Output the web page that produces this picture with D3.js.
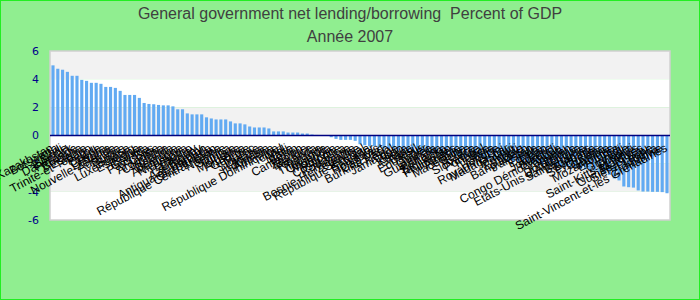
<!DOCTYPE html>
<html>
<head>
<meta charset="utf-8">
<script src="https://cdnjs.cloudflare.com/ajax/libs/d3/7.8.5/d3.min.js"></script>
<style>
body{margin:0;padding:0;background:#fff;}
#chart{width:700px;height:300px;}
</style>
</head>
<body>
<div id="chart"></div>
<script>
// données
var countries = ["Kazakhstan","Botswana","Chili","Islande","Danemark","Finlande","Bulgarie","Estonie","Trinité-et-Tobago","Pérou",
"Suède","Chypre","Lettonie","Nouvelle-Zélande","Australie","Russie","Suisse","Luxembourg","Espagne","Bolivie",
"Canada","Pays-Bas","Corée","Argentine","Colombie","Irlande","Belgique","Allemagne","Nicaragua","Lesotho",
"Paraguay","Uruguay","Azerbaïdjan","Antigua-et-Barbuda","Ouzbékistan","République Centrafricaine","Namibie","Samoa","Tunisie","Moldavie",
"Arménie","Géorgie","Maroc","Slovénie","Lituanie","Indonésie","Autriche","République Dominicaine","Tchad","Mali",
"Malte","Bénin","Cameroun","Zambie","Maurice","Rwanda","Turquie","Thaïlande","Ouganda","Mongolie",
"Pologne","Costa Rica","Roumanie","Tanzanie","Bosnie-Herzégovine","Sénégal","République Kirghize","Salvador","Honduras","Cap-Vert",
"Burkina Faso","Népal","Jamaïque","Togo","Kenya","Ghana","Brésil","Equateur","Niger","Guinée",
"Guatemala","Panama","Sri Lanka","Tadjikistan","Philippines","Albanie","Macédoine","Belize","Grèce","Slovaquie",
"Portugal","France","Italie","Hongrie","Royaume-Uni","Madagascar","Malawi","Haïti","Ethiopie","Bangladesh",
"Pakistan","Inde","Egypte","Liban","Jordanie","Burundi","Congo Démocratique","Vanuatu","Yémen","Dominique",
"Etats-Unis d'Amérique","Sainte-Lucie","Bahamas","Barbade","Seychelles","Guyana","Gambie","Mozambique","Erythrée","Fidji",
"Grenade","Djibouti","Saint-Kitts-et-Nevis","Maldives","Guinée-Bissau","Sierra Leone","Libéria","Zimbabwe","Saint-Vincent-et-les Grenadines"];

var values = [4.98,4.74,4.67,4.52,4.24,4.24,3.95,3.88,3.74,3.74,
3.67,3.45,3.45,3.38,3.17,2.88,2.88,2.88,2.67,2.31,
2.24,2.22,2.17,2.14,2.14,2.07,1.86,1.86,1.57,1.5,
1.5,1.5,1.29,1.21,1.14,1.14,1.14,1.0,0.86,0.86,
0.79,0.64,0.57,0.57,0.57,0.5,0.29,0.29,0.29,0.21,
0.21,0.21,0.14,0.14,0.07,0.04,0.02,-0.03,-0.12,-0.24,
-0.31,-0.31,-0.31,-0.38,-0.62,-0.69,-0.76,-0.76,-0.86,-0.93,
-0.93,-1.0,-1.05,-1.1,-1.1,-1.15,-1.2,-1.2,-1.25,-1.3,
-1.3,-1.35,-1.4,-1.4,-1.45,-1.5,-1.5,-1.55,-1.6,-1.6,
-1.65,-1.7,-1.7,-1.75,-1.8,-1.8,-1.85,-1.9,-1.9,-1.95,
-2.0,-2.0,-2.05,-2.1,-2.1,-2.15,-2.2,-2.2,-2.25,-2.3,
-2.35,-2.4,-2.45,-2.5,-2.6,-2.7,-2.8,-3.05,-3.19,-3.62,
-3.67,-3.7,-3.9,-3.98,-3.98,-4.0,-4.0,-4.02,-4.1];

var yTicks = [-6,-4,-2,0,2,4,6];
var bands = [[4,6],[2,4],[0,2],[-2,0],[-4,-2],[-6,-4]];
var title1 = "General government net lending/borrowing  Percent of GDP";
var title2 = "Année 2007";

var W = 700, H = 300;
var margin = {top:51, right:30, bottom:80, left:50};

var svg = d3.select("#chart").append("svg")
    .attr("width", W)
    .attr("height", H);

// fond
svg.append("rect")
    .attr("x", 0.5).attr("y", 0.5)
    .attr("width", W-1).attr("height", H-1)
    .style("fill", "#90ee90")
    .style("stroke", "#22ee22")
    .style("stroke-width", 1);

var x = d3.scaleBand()
    .domain(countries)
    .range([margin.left, W-margin.right])
    .paddingInner(0.35)
    .paddingOuter(0.3);

var y = d3.scaleLinear()
    .domain([-6, 6])
    .range([H-margin.bottom, margin.top]);

// bandes
svg.selectAll(".band")
    .data(bands)
    .enter().append("rect")
    .attr("class", "band")
    .attr("x", margin.left)
    .attr("y", function(d){ return y(d[1]); })
    .attr("width", W-margin.left-margin.right)
    .attr("height", function(d){ return y(d[0]) - y(d[1]); })
    .style("fill", function(d, i){ return i%2==0 ? "#f2f2f2" : "#ffffff"; });

svg.append("rect")
    .attr("x", margin.left)
    .attr("y", margin.top)
    .attr("width", W-margin.left-margin.right)
    .attr("height", H-margin.top-margin.bottom)
    .style("fill", "none")
    .style("stroke", "#d0d0d0")
    .style("stroke-width", 1.5);

// barres
svg.selectAll(".bar")
    .data(values)
    .enter().append("rect")
    .attr("class", "bar")
    .attr("x", function(d, i){ return x(countries[i]); })
    .attr("y", function(d){ return y(Math.max(0, d)); })
    .attr("width", x.bandwidth())
    .attr("height", function(d){ return Math.abs(y(d) - y(0)); })
    .style("fill", "#62aaf2");

// ligne zéro
svg.append("line")
    .attr("x1", margin.left).attr("x2", W-margin.right)
    .attr("y1", y(0)).attr("y2", y(0))
    .style("stroke", "#000080")
    .style("stroke-width", 1.5);

// axe y
svg.selectAll(".ytick")
    .data(yTicks)
    .enter().append("text")
    .attr("class", "ytick")
    .attr("x", margin.left-11)
    .attr("y", function(d){ return y(d); })
    .attr("dy", "0.35em")
    .attr("text-anchor", "end")
    .style("font-family", "'DejaVu Sans', Verdana, sans-serif")
    .style("font-size", "11px")
    .style("fill", "#00008b")
    .text(function(d){ return d; });

// étiquettes pays
svg.selectAll(".xlab")
    .data(countries)
    .enter().append("text")
    .attr("class", "xlab")
    .attr("transform", function(d){
        return "translate(" + (x(d) + x.bandwidth()/2 + 1) + "," + (y(0) + 15) + ") rotate(-28)";
    })
    .attr("text-anchor", "end")
    .style("font-family", "'Liberation Sans', Arial, sans-serif")
    .style("font-size", "12px")
    .style("fill", "#000")
    .text(function(d){ return d; });

// titre
svg.append("text")
    .attr("x", W/2).attr("y", 19)
    .attr("text-anchor", "middle")
    .style("font-family", "'Liberation Sans', Arial, sans-serif")
    .style("font-size", "16px")
    .style("fill", "#404040")
    .style("white-space", "pre")
    .text(title1);

svg.append("text")
    .attr("x", W/2).attr("y", 42)
    .attr("text-anchor", "middle")
    .style("font-family", "'Liberation Sans', Arial, sans-serif")
    .style("font-size", "16px")
    .style("fill", "#404040")
    .text(title2);
</script>
</body>
</html>
